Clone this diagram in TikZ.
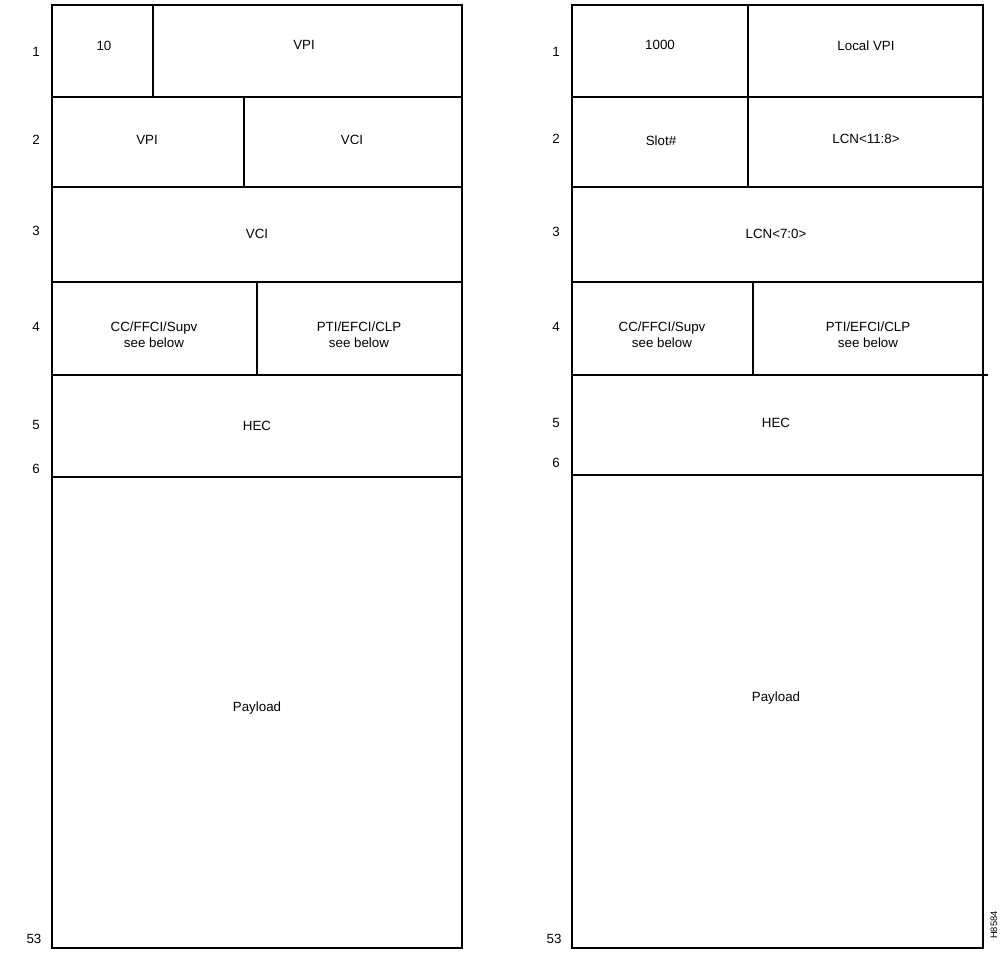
\documentclass[tikz,border=0pt]{standalone}
\usepackage{fontspec}
\setmainfont{Liberation Sans}
\begin{document}
\begin{tikzpicture}[x=0.75pt,y=-0.75pt,
  frame/.style={line width=1.6pt,line cap=rect},
  lbl/.style={font=\fontsize{10}{12}\selectfont,inner sep=0pt,align=center},
  num/.style={font=\fontsize{10}{12}\selectfont,inner sep=0pt},
  figid/.style={font=\fontsize{7}{8}\selectfont,inner sep=0pt,rotate=90}]
\useasboundingbox (0,0) rectangle (1004,955);
% ---------- left cell ----------
\draw[frame] (52,5) rectangle (462,948);
\draw[frame] (52,97) -- (462,97);
\draw[frame] (52,187) -- (462,187);
\draw[frame] (52,282) -- (462,282);
\draw[frame] (52,375) -- (462,375);
\draw[frame] (52,477) -- (462,477);
\draw[frame] (153,5) -- (153,97);
\draw[frame] (244,97) -- (244,187);
\draw[frame] (257,282) -- (257,375);
\node[lbl] (l10) at (104,46) {10};
\node[lbl] (lvpi1) at (304,45) {VPI};
\node[lbl] (lvpi2) at (147,140) {VPI};
\node[lbl] (lvci2) at (352,140) {VCI};
\node[lbl] (lvci3) at (257,234) {VCI};
\node[lbl] (lcc) at (154,335) {CC/FFCI/Supv\\see below};
\node[lbl] (lpti) at (359,335) {PTI/EFCI/CLP\\see below};
\node[lbl] (lhec) at (257,426) {HEC};
\node[lbl] (lpay) at (257,708) {Payload};
\node[num] (ln1) at (36,52) {1};
\node[num] (ln2) at (36,140) {2};
\node[num] (ln3) at (36,231) {3};
\node[num] (ln4) at (36,327) {4};
\node[num] (ln5) at (36,425) {5};
\node[num] (ln6) at (36,469) {6};
\node[num] (ln53) at (34,939) {53};
% ---------- right cell ----------
\draw[frame] (572,5) rectangle (983,948);
\draw[frame] (572,97) -- (983,97);
\draw[frame] (572,187) -- (983,187);
\draw[frame] (572,282) -- (983,282);
\draw[frame] (572,375) -- (987,375);
\draw[frame] (572,475) -- (983,475);
\draw[frame] (748,5) -- (748,187);
\draw[frame] (753,282) -- (753,375);
\node[lbl] (r1000) at (660,45) {1000};
\node[lbl] (rlvpi) at (866,46) {Local VPI};
\node[lbl] (rslot) at (661,141) {Slot\#};
\node[lbl] (rlcn1) at (866,139) {LCN<11:8>};
\node[lbl] (rlcn2) at (776,234) {LCN<7:0>};
\node[lbl] (rcc) at (662,335) {CC/FFCI/Supv\\see below};
\node[lbl] (rpti) at (868,335) {PTI/EFCI/CLP\\see below};
\node[lbl] (rhec) at (776,423) {HEC};
\node[lbl] (rpay) at (776,698) {Payload};
\node[num] (rn1) at (556,52) {1};
\node[num] (rn2) at (556,139) {2};
\node[num] (rn3) at (556,232) {3};
\node[num] (rn4) at (556,327) {4};
\node[num] (rn5) at (556,423) {5};
\node[num] (rn6) at (556,463) {6};
\node[num] (rn53) at (554,939) {53};
\node[figid] (fid) at (994,925) {H8584};
\end{tikzpicture}
\end{document}
